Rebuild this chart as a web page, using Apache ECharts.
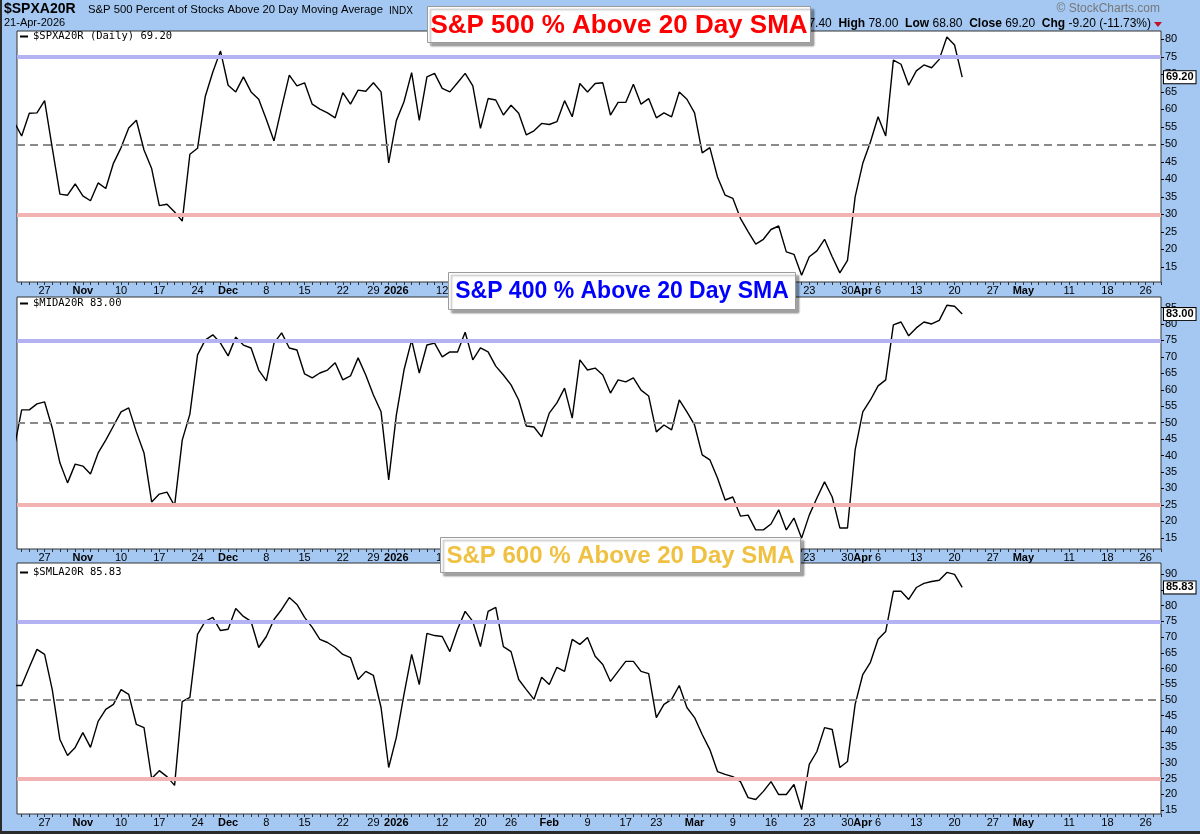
<!DOCTYPE html>
<html>
<head>
<meta charset="utf-8">
<title>S&amp;P % Above 20 Day SMA</title>
<script src="https://cdn.jsdelivr.net/npm/echarts@6.0.0/dist/echarts.min.js"></script>
<style>
    html, body { margin: 0; padding: 0; background: #a4c8f2; }
    #main { width: 1200px; height: 834px; }
</style>
</head>
<body>
<div id="main"></div>
<script>
// trading-day index: 0 = 22-Oct-2025 ... 123 = 21-Apr-2026 (first value is 21-Oct, index -1)
var firstIdx = -1;

var spxValues = [56.5,
    52.4, 58.9, 59.0, 62.5, 49.0, 35.8, 35.5, 38.7, 35.3, 33.9,
    39.0, 37.4, 44.6, 49.1, 54.7, 56.9, 48.4, 43.1, 32.5, 32.9,
    30.7, 28.1, 47.2, 48.9, 63.6, 70.7, 76.7, 66.9, 65.0, 69.3,
    65.0, 62.9, 57.1, 51.0, 60.6, 69.8, 66.7, 67.6, 61.5, 60.1,
    59.0, 57.6, 64.8, 61.5, 65.5, 65.2, 67.6, 65.0, 44.7, 56.8,
    62.2, 70.5, 56.9, 69.3, 70.3, 66.0, 65.0, 67.6, 70.3, 66.7,
    54.6, 63.1, 62.7, 58.4, 61.2, 58.9, 52.7, 53.9, 56.0, 55.7,
    56.5, 62.5, 57.9, 67.4, 65.0, 67.4, 67.6, 58.4, 62.0, 62.0,
    67.2, 61.5, 63.1, 57.6, 59.0, 57.9, 65.0, 62.9, 59.0, 47.6,
    49.1, 40.7, 35.5, 34.6, 28.9, 25.1, 21.5, 22.9, 25.7, 26.7,
    19.3, 18.6, 12.6, 17.9, 19.6, 22.9, 17.9, 13.3, 16.9, 35.0,
    44.6, 50.7, 57.9, 52.4, 74.1, 72.9, 66.9, 71.0, 72.7, 71.9,
    74.3, 80.7, 78.4, 69.2];

var midValues = [42.0,
    53.9, 53.9, 55.7, 56.3, 48.4, 37.8, 31.7, 37.4, 36.8, 34.4,
    40.8, 44.7, 49.0, 53.3, 54.5, 47.2, 40.8, 25.9, 28.3, 28.9,
    24.7, 44.7, 52.6, 70.6, 75.1, 76.7, 74.2, 70.3, 76.0, 73.6,
    72.7, 66.0, 62.7, 74.2, 77.3, 72.7, 72.1, 64.8, 63.6, 65.1,
    66.0, 68.2, 63.0, 64.2, 69.7, 64.5, 58.4, 53.3, 32.6, 52.3,
    66.0, 75.1, 65.1, 73.6, 74.2, 70.0, 71.5, 71.5, 77.5, 69.1,
    72.7, 71.5, 67.2, 64.5, 61.5, 56.9, 49.0, 48.7, 45.7, 52.9,
    56.0, 60.5, 51.4, 69.1, 66.0, 66.6, 64.5, 59.0, 63.0, 62.4,
    63.6, 59.9, 58.1, 47.2, 49.3, 47.8, 56.9, 53.3, 49.3, 40.2,
    38.7, 33.2, 26.5, 27.4, 21.6, 21.9, 17.4, 17.4, 19.2, 23.5,
    17.4, 21.0, 14.9, 21.9, 27.1, 32.0, 27.4, 18.0, 18.0, 41.7,
    53.3, 56.9, 61.2, 63.0, 79.7, 80.6, 76.4, 78.8, 80.6, 80.0,
    81.1, 85.7, 85.4, 83.0];

var smlValues = [54.6,
    54.6, 60.4, 66.1, 64.5, 53.3, 37.4, 32.3, 34.9, 39.6, 34.9,
    43.2, 47.0, 48.6, 53.3, 51.8, 42.2, 41.2, 25.0, 27.5, 25.6,
    22.8, 49.5, 50.8, 70.9, 75.0, 76.3, 72.1, 72.5, 79.1, 76.6,
    75.0, 66.7, 70.2, 75.6, 78.8, 82.6, 80.4, 76.3, 73.1, 69.3,
    68.3, 66.7, 64.5, 63.5, 56.5, 59.1, 57.8, 47.6, 28.5, 38.1,
    51.8, 64.5, 54.9, 71.2, 70.5, 70.2, 65.4, 72.5, 78.2, 75.0,
    67.0, 78.2, 79.5, 67.0, 65.4, 56.5, 53.3, 50.2, 57.2, 54.9,
    60.4, 59.1, 69.3, 67.7, 69.9, 63.9, 61.3, 55.9, 59.1, 62.3,
    62.3, 59.1, 58.4, 44.4, 48.6, 50.2, 54.6, 47.6, 44.4, 39.0,
    34.2, 27.2, 26.3, 25.6, 24.0, 18.9, 18.3, 20.9, 24.0, 19.9,
    19.9, 23.1, 15.1, 29.5, 33.6, 41.2, 40.6, 28.5, 30.4, 48.6,
    58.1, 62.0, 69.3, 71.8, 84.6, 84.6, 82.0, 85.8, 87.1, 87.7,
    88.1, 90.6, 90.0, 85.83];

// date labels on the x axis (trading-day index -> text)
var dateTickIdx = [3, 8, 13, 18, 23, 27, 32, 37, 42, 46, 49, 55, 60, 64, 69, 74, 79, 83,
    88, 93, 98, 103, 108, 110, 112, 117, 122, 127, 131, 137, 142, 147];
var dateTickText = ['27', 'Nov', '10', '17', '24', 'Dec', '8', '15', '22', '29', '2026', '12', '20', '26', 'Feb', '9', '17', '23',
    'Mar', '9', '16', '23', '30', 'Apr', '6', '13', '20', '27', 'May', '11', '18', '26'];
var boldDateText = ['Nov', 'Dec', '2026', 'Feb', 'Mar', 'Apr', 'May'];

var yTicks1 = [15, 20, 25, 30, 35, 40, 45, 50, 55, 60, 65, 70, 75, 80];
var yTicks2 = [15, 20, 25, 30, 35, 40, 45, 50, 55, 60, 65, 70, 75, 80, 85];
var yTicks3 = [15, 20, 25, 30, 35, 40, 45, 50, 55, 60, 65, 70, 75, 80, 85, 90];

var refLevels1 = [75, 50, 30];
var refLevels2 = [75, 50, 25];
var refLevels3 = [75, 50, 25];

(function () {
    var chart = echarts.init(document.getElementById('main'));
    var font = '"Liberation Sans", Arial, sans-serif';
    var mono = '"DejaVu Sans Mono", monospace';

    var dayTicks = [];
    for (var d = 0; d <= 149; d++) dayTicks.push(d);

    var labelMap = {};
    for (var i = 0; i < dateTickIdx.length; i++) labelMap[dateTickIdx[i]] = dateTickText[i];

    function toPairs(arr) {
        return arr.map(function (v, k) { return [firstIdx + k, v]; });
    }

    var grids = [
        {left: 17, top: 31, width: 1144, height: 251},
        {left: 17, top: 297, width: 1144, height: 252},
        {left: 17, top: 563, width: 1144, height: 251}
    ];
    var yRanges = [[10.7, 82.4], [11.6, 88.2], [13.7, 93.6]];
    var yTicks = [yTicks1, yTicks2, yTicks3];
    var refs = [refLevels1, refLevels2, refLevels3];
    var values = [spxValues, midValues, smlValues];

    var refStyle = [
        {color: '#b3b3f3', width: 4, type: 'solid'},
        {color: '#8a8a8a', width: 2, type: [8, 5]},
        {color: '#f4b3b3', width: 4, type: 'solid'}
    ];

    var xAxes = [], yAxes = [], series = [];
    for (var g = 0; g < 3; g++) {
        grids[g].show = true;
        grids[g].backgroundColor = '#fff';
        grids[g].borderColor = '#333';
        grids[g].borderWidth = 1;

        xAxes.push({
            type: 'value', gridIndex: g, min: -0.61, max: 149, position: 'bottom',
            axisLine: {show: false, onZero: false},
            splitLine: {show: false},
            axisTick: {show: true, customValues: dayTicks, length: 3, lineStyle: {color: '#333'}},
            axisLabel: {
                customValues: dateTickIdx, margin: 3, fontSize: 11, fontFamily: font, color: '#000',
                formatter: function (v) {
                    var t = labelMap[Math.round(v)] || '';
                    return boldDateText.indexOf(t) >= 0 ? '{b|' + t + '}' : t;
                },
                rich: {b: {fontWeight: 'bold', fontSize: 11, fontFamily: font, color: '#000'}}
            }
        });
        yAxes.push({
            type: 'value', gridIndex: g, position: 'right',
            min: yRanges[g][0], max: yRanges[g][1],
            axisLine: {show: false, onZero: false},
            splitLine: {show: false},
            axisTick: {show: true, customValues: yTicks[g], length: 3, lineStyle: {color: '#000'}},
            axisLabel: {customValues: yTicks[g], margin: 4, fontSize: 11, fontFamily: font, color: '#000'}
        });

        var pairs = toPairs(values[g]);
        var last = values[g][values[g].length - 1];
        series.push({
            type: 'line', xAxisIndex: g, yAxisIndex: g, data: pairs, showSymbol: false, silent: true,
            lineStyle: {opacity: 0}, z: 1,
            markLine: {
                silent: true, symbol: ['none', 'none'], label: {show: false},
                data: refs[g].map(function (lv, k) { return {yAxis: lv, lineStyle: refStyle[k]}; })
            }
        });
        series.push({
            type: 'line', xAxisIndex: g, yAxisIndex: g, data: pairs, showSymbol: false, z: 3,
            lineStyle: {color: '#000', width: 1.4},
            markLine: {
                silent: true, symbol: ['none', 'none'],
                lineStyle: {color: 'rgba(0,0,0,0)', width: 0, type: 'solid'},
                label: {
                    show: true, position: 'end', distance: 3, formatter: last.toFixed(2),
                    backgroundColor: '#fff', borderColor: '#000', borderWidth: 1, padding: [1, 2, 0, 2],
                    fontSize: 11, fontWeight: 'bold', fontFamily: font, color: '#000'
                },
                data: [{yAxis: last}]
            }
        });
    }

    function titleBox(x, y, w, h, text, color, size) {
        return {
            type: 'group', left: x, top: y, zlevel: 1,
            children: [
                {type: 'rect', z: 100, shape: {x: 0, y: 0, width: w, height: h},
                    style: {fill: '#fff', stroke: '#9a9a9a', lineWidth: 1,
                        shadowColor: 'rgba(0,0,0,0.35)', shadowOffsetX: 3, shadowOffsetY: 3, shadowBlur: 2}},
                {type: 'text', z: 101, x: w / 2, y: h / 2 + 1,
                    style: {text: text, fill: color, font: 'bold ' + size + 'px ' + font,
                        textAlign: 'center', textVerticalAlign: 'middle'}}
            ]
        };
    }

    function legend(y, text) {
        return {
            type: 'group', left: 20, top: y - 6, zlevel: 1,
            children: [
                {type: 'rect', z: 50, shape: {x: 0, y: 5, width: 8, height: 2}, style: {fill: '#000'}},
                {type: 'text', z: 50, x: 13, y: 6, style: {text: text, fill: '#000', font: '10.5px ' + mono, textVerticalAlign: 'middle'}}
            ]
        };
    }

    var option = {
        animation: false,
        backgroundColor: '#a4c8f2',
        grid: grids,
        xAxis: xAxes,
        yAxis: yAxes,
        series: series,
        graphic: [
            {type: 'rect', left: 0, top: 0, shape: {width: 2, height: 834}, style: {fill: '#2b2b2b'}, z: 90},
            {type: 'rect', left: 0, top: 831, shape: {width: 1200, height: 3}, style: {fill: '#2b2b2b'}, z: 90},
            {type: 'text', left: 4, top: 2, style: {text: '$SPXA20R', fill: '#000', font: 'bold 14px ' + font}},
            {type: 'text', left: 88, top: 4, style: {text: 'S&P 500 Percent of Stocks Above 20 Day Moving Average', fill: '#000', font: '11.3px ' + font}},
            {type: 'text', left: 389, top: 6, style: {text: 'INDX', fill: '#000', font: '10px ' + font}},
            {type: 'text', left: 4, top: 17, style: {text: '21-Apr-2026', fill: '#000', font: '11px ' + font}},
            {type: 'text', right: 40, top: 3, style: {text: '\u00a9 StockCharts.com', fill: '#777', font: '12px ' + font}},
            {type: 'text', right: 49, top: 18, style: {
                text: '{b|Open} 77.40  {b|High} 78.00  {b|Low} 68.80  {b|Close} 69.20  {b|Chg} -9.20 (-11.73%)',
                fill: '#000', font: '12px ' + font,
                rich: {b: {fontWeight: 'bold', fontSize: 12, fontFamily: font}}}},
            {type: 'polygon', shape: {points: [[1154, 22], [1162, 22], [1158, 27]]}, style: {fill: '#c0102a'}},
            legend(37, '$SPXA20R (Daily) 69.20'),
            legend(304, '$MIDA20R 83.00'),
            legend(573, '$SMLA20R 85.83'),
            titleBox(427, 6, 383, 36, 'S&P 500 % Above 20 Day SMA', '#ff0000', 26),
            titleBox(448, 272, 347, 37, 'S&P 400 % Above 20 Day SMA', '#0000ff', 23),
            titleBox(440, 537, 360, 35, 'S&P 600 % Above 20 Day SMA', '#f0c040', 24)
        ]
    };
    chart.setOption(option);
})();
</script>
</body>
</html>
